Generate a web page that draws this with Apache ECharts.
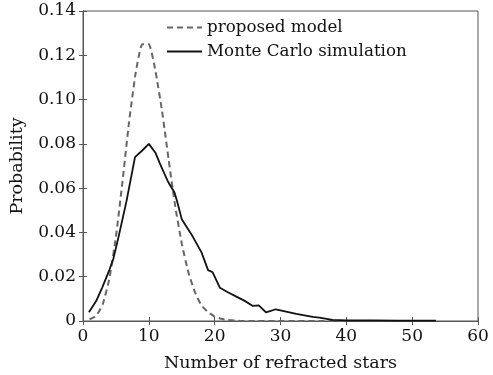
<!DOCTYPE html>
<html lang="en">
<head>
    <meta charset="UTF-8">
    <title>refracted stars</title>
    <script src="https://cdn.jsdelivr.net/npm/echarts@6/dist/echarts.min.js"></script>
    <style>
        *{margin:0;padding:0;box-sizing:border-box;}
        body,html{width:493px;height:375px;background:#fff;}
        #one{width:493px;height:375px;}
    </style>
</head>
<body>
<div id="one"></div>
<script>
    // proposed model (dashed)
    var modelX = [1,2,3,4,5,6,7,8,9,10,11,12,13,14,15,16,17,18,19,20,21,22,24,26,28,30,32,34,36,38,40]
    var modelY = [0.0008,0.0023,0.0076,0.019,0.038,0.063,0.090,0.112,0.125,0.125,0.113,0.095,0.073,0.052,0.035,0.022,0.013,0.007,0.004,0.002,0.001,0.0005,0,0,0,0,0,0,0,0,0]
    // Monte Carlo simulation (solid)
    var mcX = [0.9,2,2.9,4,4.6,5.4,6.6,7.9,9,10,11,11.7,12.9,13.9,14.3,15,16.5,18,19,19.7,20.8,22,23.3,24.5,25.8,26.7,27.8,29.3,30.5,32.4,34.9,35.9,37.9,40,44,48,50,53.6]
    var mcY = [0.004,0.009,0.015,0.023,0.028,0.038,0.054,0.074,0.077,0.080,0.076,0.071,0.063,0.058,0.054,0.046,0.039,0.031,0.023,0.022,0.015,0.013,0.011,0.0092,0.0068,0.0071,0.0039,0.0053,0.0045,0.0032,0.0019,0.0015,0.0005,0.0003,0.0003,0.0002,0.0002,0.0002]

    function pairs(xs,ys){
        return xs.map(function(x,i){return [x,ys[i]]})
    }
    var font = "DejaVu Serif"
    var frame = "#555"
    var myCharts = echarts.init(document.getElementById("one"))
    var option = {
        animation:false,
        textStyle:{fontFamily:font},
        legend:{
            orient:"vertical",left:166,top:19,padding:0,itemGap:7,itemWidth:35,itemHeight:12,
            itemStyle:{opacity:0},
            textStyle:{fontFamily:font,fontSize:16.7,color:"#111"},
            data:["proposed model","Monte Carlo simulation"]
        },
        grid:{left:83,right:15,top:11,bottom:54,outerBoundsMode:"none",show:true,borderColor:frame,borderWidth:1},
        xAxis:[
            {type:"value",min:0,max:60,interval:10,
                name:"Number of refracted stars",nameLocation:"middle",nameGap:33,
                nameTextStyle:{fontFamily:font,fontSize:17.5,color:"#111"},
                axisLine:{lineStyle:{color:frame}},
                axisTick:{inside:true,length:4,lineStyle:{color:frame}},
                axisLabel:{fontFamily:font,fontSize:17,color:"#111",margin:7},
                splitLine:{show:false}},
            {type:"value",position:"top",min:0,max:60,interval:10,
                axisLine:{lineStyle:{color:frame}},
                axisTick:{inside:true,length:4,lineStyle:{color:frame}},
                axisLabel:{show:false},splitLine:{show:false}}
        ],
        yAxis:[
            {type:"value",min:0,max:0.14,interval:0.02,
                name:"Probability",nameLocation:"middle",nameGap:57,
                nameTextStyle:{fontFamily:font,fontSize:17.5,color:"#111"},
                axisLine:{lineStyle:{color:frame}},
                axisTick:{inside:true,length:4,lineStyle:{color:frame}},
                axisLabel:{fontFamily:font,fontSize:17,color:"#111",margin:7,
                    formatter:function(v){return v===0?"0":v.toFixed(2)}},
                splitLine:{show:false}},
            {type:"value",position:"right",min:0,max:0.14,interval:0.02,
                axisLine:{lineStyle:{color:frame}},
                axisTick:{inside:true,length:4,lineStyle:{color:frame}},
                axisLabel:{show:false},splitLine:{show:false}}
        ],
        series:[
            {
                name:"proposed model",type:"line",smooth:0.15,symbol:"none",
                data:pairs(modelX,modelY),
                lineStyle:{color:"#666",width:2,type:[6,4]},
                itemStyle:{color:"#666"}
            },
            {
                name:"Monte Carlo simulation",type:"line",symbol:"none",
                data:pairs(mcX,mcY),
                lineStyle:{color:"#111",width:1.8},
                itemStyle:{color:"#111"}
            }
        ]
    }
    myCharts.setOption(option)
</script>
</body>
</html>
